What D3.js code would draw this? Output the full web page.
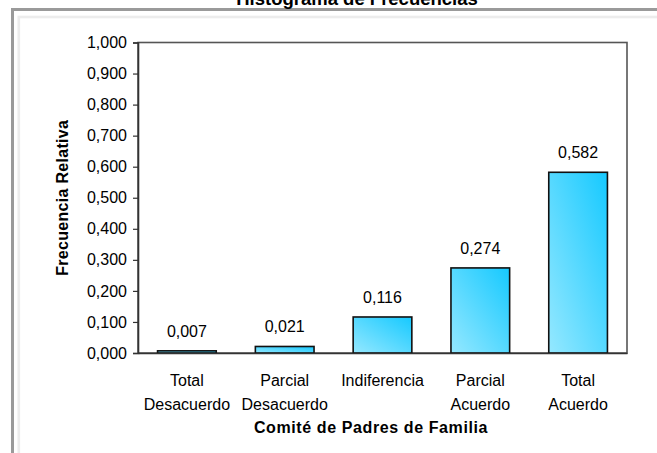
<!DOCTYPE html>
<html>
<head>
<meta charset="utf-8">
<script src="https://cdn.jsdelivr.net/npm/d3@7"></script>
<style>
  html, body { margin: 0; padding: 0; background: #fff; }
  svg { display: block; font-family: "Liberation Sans", Arial, sans-serif; }
</style>
</head>
<body>
<svg id="chart" width="657" height="453"></svg>
<script>
// Category labels (each entry is split over two lines)
const categories = ["Total Desacuerdo", "Parcial Desacuerdo", "Indiferencia", "Parcial Acuerdo", "Total Acuerdo"];
const categoryLines = [["Total", "Desacuerdo"], ["Parcial", "Desacuerdo"], ["Indiferencia"], ["Parcial", "Acuerdo"], ["Total", "Acuerdo"]];
// Relative frequency for each category
const values = [0.007, 0.021, 0.116, 0.274, 0.582];
// Y axis ticks
const yTicks = [0, 0.1, 0.2, 0.3, 0.4, 0.5, 0.6, 0.7, 0.8, 0.9, 1.0];

const chartTitle = "Histograma de Frecuencias";
const xTitle = "Comité de Padres de Familia";
const yTitle = "Frecuencia Relativa";

const svg = d3.select("#chart");
const W = 657, H = 453;
const plot = { left: 138, right: 627, top: 42.5, bottom: 353 };

// Spanish-style number format: comma decimal separator
const locale = d3.formatLocale({ decimal: ",", thousands: ".", grouping: [3], currency: ["", ""] });
const fmt = locale.format(".3f");

// Outer chart frame
svg.append("rect").attr("x", 12.5).attr("y", 9.5).attr("width", W).attr("height", H)
  .attr("fill", "none").attr("stroke", "#9a9a9a").attr("stroke-width", 3);
svg.append("rect").attr("x", 18.8).attr("y", 17).attr("width", W).attr("height", H)
  .attr("fill", "none").attr("stroke", "#ececec").attr("stroke-width", 2.6);

// Chart title (sits above the frame)
svg.append("text").attr("x", 357).attr("y", 5).attr("text-anchor", "middle")
  .attr("font-size", 18.5).attr("font-weight", "bold").attr("fill", "#000")
  .text(chartTitle);

const x = d3.scaleBand().domain(categories).range([plot.left, plot.right])
  .paddingInner(0.4).paddingOuter(0.2);
const y = d3.scaleLinear().domain([0, 1]).range([plot.bottom, plot.top]);

// Bar gradient: light cyan bottom-left to saturated cyan top-right
const defs = svg.append("defs");
const grad = defs.append("linearGradient").attr("id", "barGrad")
  .attr("x1", 0).attr("y1", 1).attr("x2", 1).attr("y2", 0);
grad.append("stop").attr("offset", "0%").attr("stop-color", "#95e8ff");
grad.append("stop").attr("offset", "100%").attr("stop-color", "#16c9ff");

// Plot area border (top/right)
svg.append("rect").attr("x", plot.left).attr("y", plot.top)
  .attr("width", plot.right - plot.left).attr("height", plot.bottom - plot.top)
  .attr("fill", "#fff").attr("stroke", "#555").attr("stroke-width", 1.6);

// Bars
svg.append("g").selectAll("rect").data(values).join("rect")
  .attr("x", (d, i) => x(categories[i]))
  .attr("y", d => y(d))
  .attr("width", x.bandwidth())
  .attr("height", d => y(0) - y(d))
  .attr("fill", "url(#barGrad)")
  .attr("stroke", "#111")
  .attr("stroke-width", 1.6);

// Value labels
svg.append("g").selectAll("text").data(values).join("text")
  .attr("x", (d, i) => x(categories[i]) + x.bandwidth() / 2)
  .attr("y", d => y(d) - 14)
  .attr("text-anchor", "middle")
  .attr("font-size", 16).attr("fill", "#000")
  .text(d => fmt(d));

// Y axis
const yAxis = svg.append("g").attr("transform", `translate(${plot.left},0)`)
  .call(d3.axisLeft(y).tickValues(yTicks).tickFormat(fmt).tickSize(5).tickPadding(6));
yAxis.select(".domain").attr("stroke", "#333").attr("stroke-width", 1.6);
yAxis.selectAll(".tick line").attr("stroke", "#333").attr("stroke-width", 1.2);
yAxis.selectAll(".tick text").attr("font-size", 16).attr("fill", "#000")
  .attr("font-family", "'Liberation Sans', Arial, sans-serif");

// X axis line
const xAxis = svg.append("g").attr("transform", `translate(0,${plot.bottom})`)
  .call(d3.axisBottom(x).tickSize(0).tickFormat(""));
xAxis.select(".domain").attr("stroke", "#333").attr("stroke-width", 1.6);

// Category labels on two lines
const catG = svg.append("g");
categories.forEach((c, i) => {
  const t = catG.append("text")
    .attr("x", x(c) + x.bandwidth() / 2)
    .attr("y", 386)
    .attr("text-anchor", "middle")
    .attr("font-size", 16).attr("fill", "#000");
  categoryLines[i].forEach((line, j) => {
    t.append("tspan").attr("x", x(c) + x.bandwidth() / 2).attr("dy", j === 0 ? 0 : 24).text(line);
  });
});

// Axis titles
svg.append("text").attr("x", 371).attr("y", 433).attr("text-anchor", "middle")
  .attr("font-size", 16).attr("font-weight", "bold").attr("letter-spacing", 0.6)
  .attr("fill", "#000").text(xTitle);

svg.append("text")
  .attr("transform", `translate(68,${(plot.top + plot.bottom) / 2}) rotate(-90)`)
  .attr("text-anchor", "middle")
  .attr("font-size", 16).attr("font-weight", "bold").attr("letter-spacing", 0.3)
  .attr("fill", "#000").text(yTitle);
</script>
</body>
</html>
